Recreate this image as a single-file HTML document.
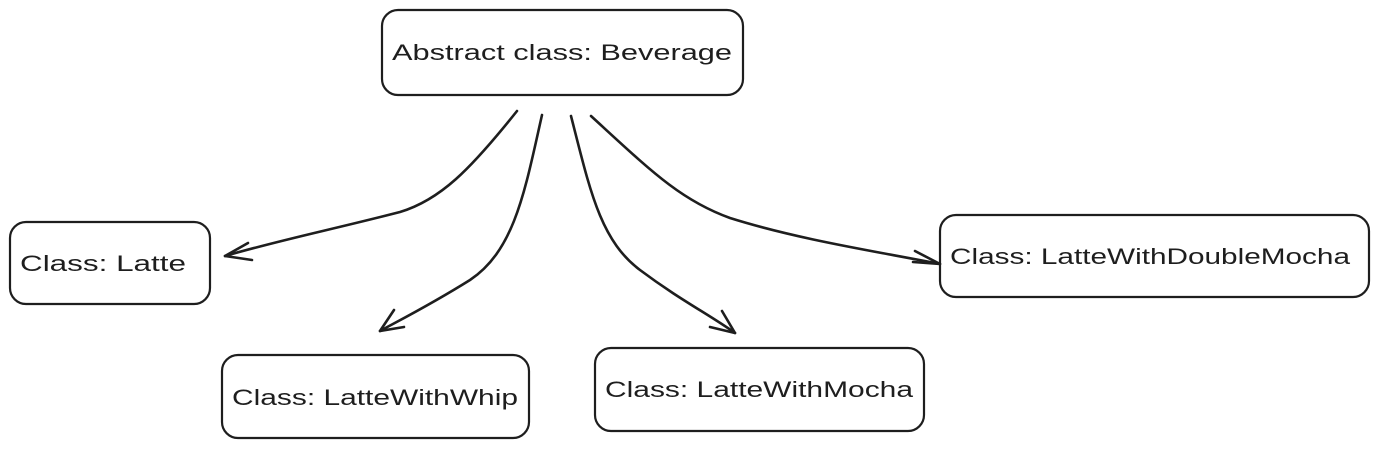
<!DOCTYPE html>
<html><head><meta charset="utf-8"><style>
html,body{margin:0;padding:0;background:#fff;}
svg{display:block}
text{font-family:"Liberation Sans",sans-serif;font-size:22px;fill:#1e1e1e;}
</style></head><body>
<svg width="1379" height="449" viewBox="0 0 1379 449" xmlns="http://www.w3.org/2000/svg">
<g fill="none" stroke="#1e1e1e" stroke-width="2.2" stroke-linecap="round" stroke-linejoin="round">
<rect x="382" y="10" width="361" height="85" rx="16"/>
<rect x="10" y="222" width="200" height="82" rx="16"/>
<rect x="222" y="355" width="307" height="83" rx="16"/>
<rect x="595" y="348" width="329" height="83" rx="16"/>
<rect x="940" y="215" width="429" height="82" rx="16"/>
<g stroke-width="2.6">
<path d="M517 111 C470 170 440 200 400 212 C330 230 280 240 225 256"/>
<path d="M225 256 L248 243 M225 256 L252 260"/>
<path d="M542 115 C525 190 515 250 470 280 C430 305 400 320 380 331"/>
<path d="M380 331 L394 310 M380 331 L404 327"/>
<path d="M571 116 C590 190 600 240 640 270 C680 300 710 315 735 333"/>
<path d="M735 333 L710 327 M735 333 L722 311"/>
<path d="M591 116 C650 170 680 200 730 218 C800 240 880 252 940 264"/>
<path d="M940 264 L915 251 M940 264 L913 262"/>
</g>
</g>
<text x="392" y="60" textLength="340" lengthAdjust="spacingAndGlyphs">Abstract class: Beverage</text>
<text x="20" y="271" textLength="166" lengthAdjust="spacingAndGlyphs">Class: Latte</text>
<text x="232" y="405" textLength="286" lengthAdjust="spacingAndGlyphs">Class: LatteWithWhip</text>
<text x="605" y="397" textLength="308" lengthAdjust="spacingAndGlyphs">Class: LatteWithMocha</text>
<text x="950" y="264" textLength="400" lengthAdjust="spacingAndGlyphs">Class: LatteWithDoubleMocha</text>
</svg>
</body></html>
